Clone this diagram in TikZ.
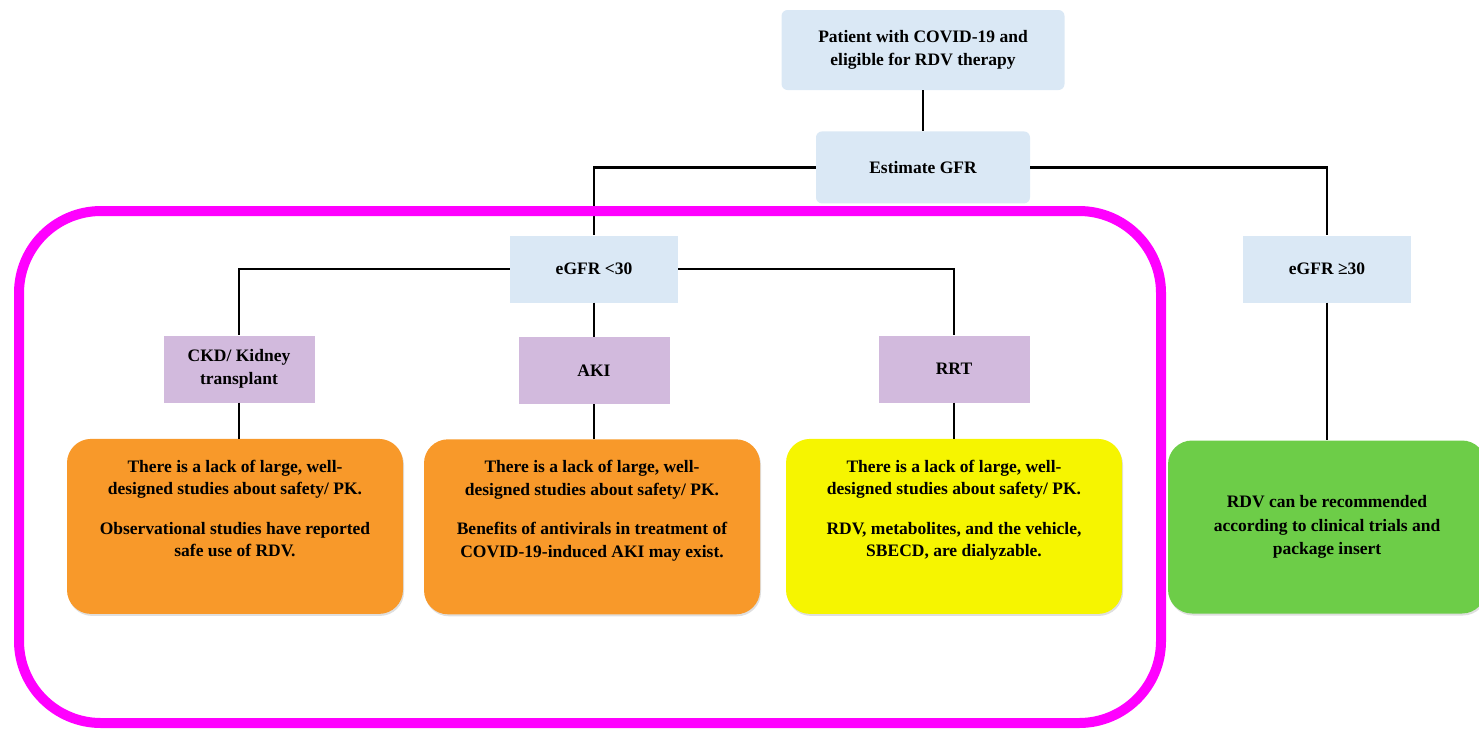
\documentclass[tikz,border=0pt]{standalone}
\usepackage{fontspec}
\setmainfont{Liberation Serif}
\usepackage{xcolor}
\usepackage{tikz}
\usetikzlibrary{positioning, shadows}
\definecolor{gfrblue}{HTML}{DAE8F5}
\definecolor{condpurple}{HTML}{D2BADD}
\definecolor{noteorange}{HTML}{F8992A}
\definecolor{noteyellow}{HTML}{F6F500}
\definecolor{notegreen}{HTML}{6DCD48}
\definecolor{framemagenta}{HTML}{FF00FF}
\tikzstyle{startbox} = [rectangle, rounded corners=6pt, minimum width=283pt, minimum height=80pt, align=center, fill=gfrblue]
\tikzstyle{gfrbox} = [rectangle, minimum width=168pt, minimum height=67pt, align=center, fill=gfrblue]
\tikzstyle{condbox} = [rectangle, minimum width=151pt, minimum height=67pt, align=center, fill=condpurple]
\tikzstyle{notebox} = [rectangle, rounded corners=24pt, inner sep=0pt, drop shadow={opacity=0.25, shadow xshift=1pt, shadow yshift=-2pt}]
\tikzstyle{conn} = [line width=2.6pt, black]

\begin{document}
\begin{tikzpicture}[x=1pt, y=-1pt, font=\bfseries\fontsize{17.5}{22.5}\selectfont]
    \clip (0,0) rectangle (1479,732);
    % Top of the tree
    \node (pat) [startbox] at (923,50) {Patient with COVID-19 and\\eligible for RDV therapy};
    \node (est) [startbox, minimum width=214pt, minimum height=72pt, below=41pt of pat] {Estimate GFR};

    % GFR groups
    \node (lt30) [gfrbox] at (594,269) {eGFR <30};
    \node (ge30) [gfrbox] at (1327,269) {eGFR ≥30};

    % Kidney conditions
    \node (ckd) [condbox] at (239,369) {CKD/ Kidney\\transplant};
    \node (aki) [condbox, below=34pt of lt30] {AKI};
    \node (rrt) [condbox] at (954,369) {RRT};

    % Notes
    \node (ckdnote) [notebox, fill=noteorange, below=36pt of ckd, xshift=-4pt] {\parbox[c][175pt][t]{336pt}{\centering\vspace{21pt}There is a lack of large, well-\\designed studies about safety/ PK.\par\vspace{17pt}Observational studies have reported\\safe use of RDV.}};
    \node (akinote) [notebox, fill=noteorange, below=35pt of aki, xshift=-2pt] {\parbox[c][175pt][t]{336pt}{\centering\vspace{21pt}There is a lack of large, well-\\designed studies about safety/ PK.\par\vspace{17pt}Benefits of antivirals in treatment of\\COVID-19-induced AKI may exist.}};
    \node (rrtnote) [notebox, fill=noteyellow, below=36pt of rrt] {\parbox[c][175pt][t]{336pt}{\centering\vspace{21pt}There is a lack of large, well-\\designed studies about safety/ PK.\par\vspace{17pt}RDV, metabolites, and the vehicle,\\SBECD, are dialyzable.}};
    \node (genote) [notebox, fill=notegreen] at (1327,527) {\parbox[c][173pt][c]{318pt}{\centering\fontsize{17.5}{23.5}\selectfont RDV can be recommended\\according to clinical trials and\\package insert}};

    % Connectors
    \draw [conn] (pat) -- (est);
    \draw [conn] (est.west) -| (lt30.north);
    \draw [conn] (est.east) -| (ge30.north);
    \draw [conn] (lt30.west) -| (ckd.north);
    \draw [conn] (lt30) -- (aki);
    \draw [conn] (lt30.east) -| (rrt.north);
    \draw [conn] (ckd) -- (ckd |- ckdnote.north);
    \draw [conn] (aki) -- (aki |- akinote.north);
    \draw [conn] (rrt) -- (rrtnote);
    \draw [conn] (ge30) -- (genote);

    % eGFR <30 frame
    \draw [framemagenta, line width=10pt, rounded corners=82pt] (19,211) rectangle (1161,723);
\end{tikzpicture}
\end{document}
